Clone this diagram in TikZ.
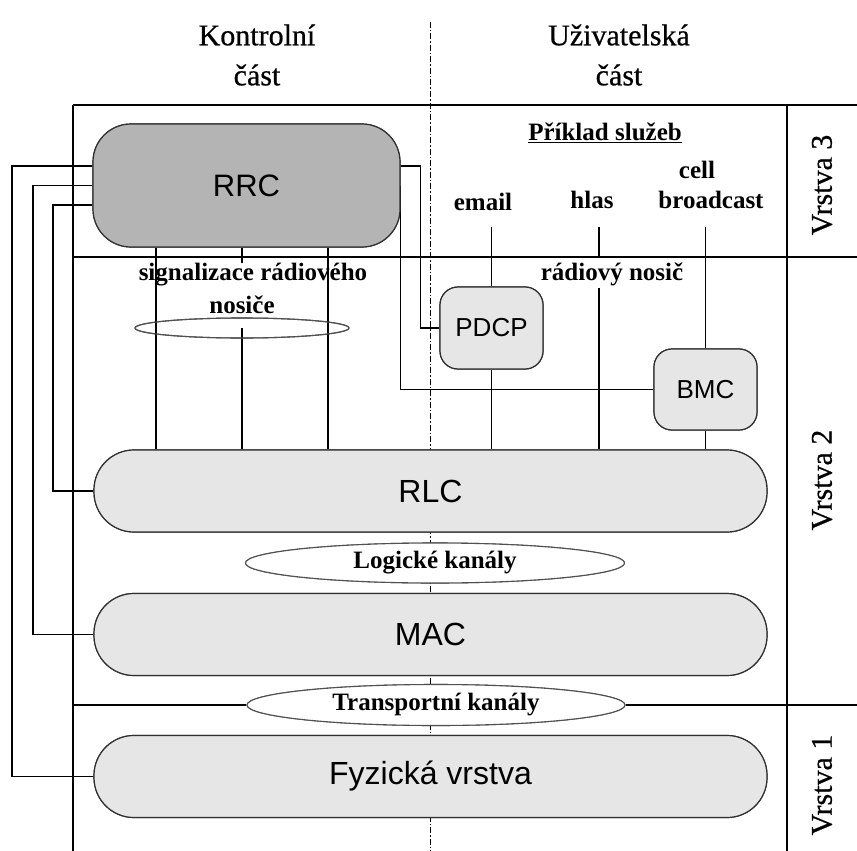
\documentclass[tikz,border=0pt]{standalone}
\usepackage{fontspec}
\setmainfont{Liberation Serif}
\newfontfamily\sansf{Liberation Sans}
\newfontfamily\headf{Liberation Serif}[FakeBold=0.6]
\usetikzlibrary{shapes.geometric}
\definecolor{rrcgray}{HTML}{B4B4B4}
\definecolor{boxgray}{HTML}{E6E6E6}
\definecolor{edgegray}{HTML}{303030}
\definecolor{ellgray}{HTML}{505050}
\begin{document}
\begin{tikzpicture}[x=1pt,y=-1pt,line width=1.2pt,
  frame/.style={draw=black,line width=1.3pt},
  dashdot/.style={draw=black,line width=1pt,dash pattern=on 6pt off 2pt on 1.5pt off 2pt},
  conn/.style={draw=black,line width=1.2pt},
  layerbox/.style={draw=edgegray,fill=boxgray,rounded corners=40pt,minimum width=673pt,minimum height=82pt,inner sep=0pt,font=\sansf\fontsize{32}{36}\selectfont},
  rrcbox/.style={draw=edgegray,fill=rrcgray,rounded corners=38pt,minimum width=307pt,minimum height=123pt,inner sep=0pt,font=\sansf\fontsize{31}{36}\selectfont},
  smallbox/.style={draw=edgegray,fill=boxgray,rounded corners=18pt,minimum width=103pt,minimum height=82pt,inner sep=0pt,font=\sansf\fontsize{26}{30}\selectfont},
  chan/.style={ellipse,draw=ellgray,fill=white,line width=1.1pt,inner sep=0pt,font=\bfseries\fontsize{25}{28}\selectfont},
  head/.style={font=\headf\fontsize{30}{34}\selectfont,inner sep=0pt},
  svc/.style={font=\bfseries\fontsize{25}{28}\selectfont,inner sep=0pt},
  layerlbl/.style={font=\headf\fontsize{30}{34}\selectfont,inner sep=0pt,rotate=90}]
\useasboundingbox (0,0) rectangle (857,851);
\fill[white] (0,0) rectangle (857,851);
% coordinates
\coordinate (x1) at (12,0);
\coordinate (x2) at (33,0);
\coordinate (x3) at (53,0);
\coordinate (s1) at (156,0);
\coordinate (s3) at (328,0);
\coordinate (dtop) at (430,22);
\coordinate (dbot) at (430,851);
\coordinate (ftl) at (73,105);
\coordinate (ftr) at (857,105);
\coordinate (fbl) at (73,851);
\coordinate (frt) at (787,105);
\coordinate (frb) at (787,851);
\coordinate (l32a) at (73,257);
\coordinate (l32b) at (857,257);
\coordinate (l21a) at (73,705);
\coordinate (l21b) at (857,705);
\coordinate (e1) at (491.5,227);
\coordinate (h1) at (599,227);
\coordinate (h2) at (599,256);
\coordinate (h3) at (599,288);
\coordinate (b1) at (705.5,227);
% dash-dot divider
\draw[dashdot] (dtop) -- (dbot);
% nodes (positions only, drawn again on top)
\path
  node[rrcbox] (RRC) at (246.5,185.5) {RRC}
  node[layerbox] (RLC) at (430.5,491) {RLC}
  node[layerbox] (MAC) at (430.5,634.5) {MAC}
  node[layerbox] (FYZ) at (430.5,776.5) {Fyzická vrstva}
  node[smallbox] (PDCP) at (491.5,328) {PDCP}
  node[smallbox,minimum height=81pt] (BMC) at (705.5,389.5) {BMC}
  node[chan,minimum width=214pt,minimum height=20pt] (SIG) at (242,328) {}
  node[chan,minimum width=379pt,minimum height=40pt] (LOG) at (435,563) {Logické kanály}
  node[chan,minimum width=378pt,minimum height=41pt] (TRA) at (436,705) {Transportní kanály};
% frame
\draw[frame] (ftl) -- (ftr);
\draw[frame] (ftl) -- (fbl);
\draw[frame] (frt) -- (frb);
\draw[frame] (l32a) -- (l32b);
\draw[frame] (l21a) -- (TRA.west);
\draw[frame] (TRA.east) -- (l21b);
% left connectors from RRC
\draw[conn] ([yshift=19.5pt]RRC.west) -- ([yshift=19.5pt]RRC.west -| x1) |- (FYZ.west);
\draw[conn] (RRC.west) -- (RRC.west -| x2) |- (MAC.west);
\draw[conn] ([yshift=-19.5pt]RRC.west) -- ([yshift=-19.5pt]RRC.west -| x3) |- (RLC.west);
% right connectors from RRC
\draw[conn] ([yshift=19.5pt]RRC.east) -- ++(20,0) |- (PDCP.west);
\draw[conn] (RRC.east) |- (BMC.west);
% RRC to RLC signalling
\draw[conn] (RRC.south -| s1) -- (RLC.north -| s1);
\draw[conn] (RRC.south -| s3) -- (RLC.north -| s3);
\draw[conn] (RRC.south -| SIG.center) -- ++(0,15);
\draw[conn] (SIG.center) -- (RLC.north -| SIG.center);
% services
\draw[conn] (e1) -- (PDCP.north);
\draw[conn] (PDCP.south) -- (RLC.north -| PDCP.south);
\draw[conn] (h1) -- (h2);
\draw[conn] (h3) -- (RLC.north -| h3);
\draw[conn] (b1) -- (BMC.north);
\draw[conn] (BMC.south) -- (RLC.north -| BMC.south);
% redraw boxes on top
\path
  node[rrcbox] at (RRC.center) {RRC}
  node[layerbox] at (RLC.center) {RLC}
  node[layerbox] at (MAC.center) {MAC}
  node[layerbox] at (FYZ.center) {Fyzická vrstva}
  node[smallbox] at (PDCP.center) {PDCP}
  node[smallbox,minimum height=81pt] at (BMC.center) {BMC}
  node[chan,minimum width=379pt,minimum height=40pt] at (LOG.center) {Logické kanály}
  node[chan,minimum width=378pt,minimum height=41pt] at (TRA.center) {Transportní kanály};
\draw[ellgray,line width=1.1pt] (SIG.center) ellipse (107pt and 10pt);
% texts
\node[head] (K1) at (257,35) {Kontrolní};
\node[head] (K2) at (257,75) {část};
\node[head] (U1) at (619,35) {Uživatelská};
\node[head] (U2) at (619,75) {část};
\node[svc] (PS) at (605,133) {\underline{Příklad služeb}};
\node[svc] (EM) at (483,202) {email};
\node[svc] (HL) at (592,200) {hlas};
\node[svc] (CE) at (697,170) {cell};
\node[svc] (BR) at (711,200) {broadcast};
\node[svc] (RN) at (612,274) {rádiový nosič};
\node[svc] (SR) at (253,275) {signalizace rádiového};
\node[svc] (NO) at (242,305) {nosiče};
\node[layerlbl] (V3) at (822,185) {Vrstva 3};
\node[layerlbl] (V2) at (822,480) {Vrstva 2};
\node[layerlbl] (V1) at (822,785) {Vrstva 1};
\end{tikzpicture}
\end{document}
